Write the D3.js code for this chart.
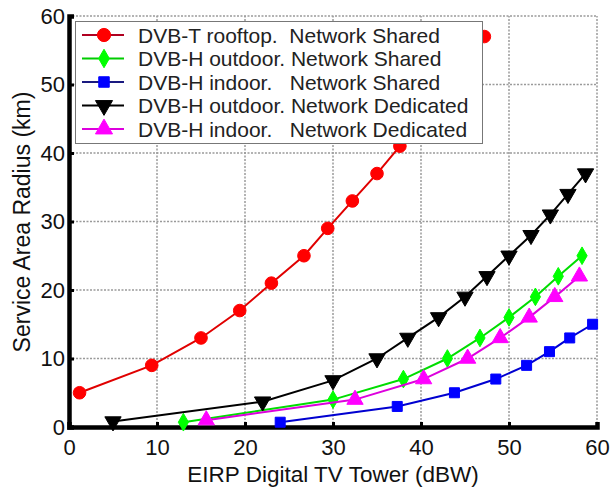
<!DOCTYPE html>
<html><head><meta charset="utf-8">
<script src="https://cdn.jsdelivr.net/npm/d3@7"></script>
<style>body{margin:0;background:#fff}svg{display:block;font-family:"Liberation Sans",Arial,sans-serif}</style>
</head><body><svg id="c" width="614" height="488"></svg>
<script>
const xTicks = [0,10,20,30,40,50,60];
const yTicks = [0,10,20,30,40,50,60];
const seriesNames = ["DVB-T rooftop.  Network Shared","DVB-H outdoor. Network Shared","DVB-H indoor.   Network Shared","DVB-H outdoor. Network Dedicated","DVB-H indoor.   Network Dedicated"];
const dvbtRoof = [[1.2,5],[9.4,9],[15,13],[19.4,17],[23,21],[26.7,25],[29.4,29],[32.2,33],[35,37],[37.6,41],[47.2,57]];
const outShared = [[13,0.7],[30,4],[38,7],[43,10],[46.7,13],[50,16],[53,19],[55.6,22],[58.3,25]];
const inShared = [[24,0.7],[37.3,3],[43.8,5],[48.5,7],[52,9],[54.6,11],[56.9,13],[59.5,15]];
const outDed = [[5,0.8],[22,3.7],[30,6.8],[35,10],[38.5,13],[42,16],[45,19],[47.5,22],[50,25],[52.5,28],[54.7,31],[56.7,34],[58.7,37]];
const inDed = [[15.6,1],[32.5,4],[40.3,7],[45.3,10],[49,13],[52.3,16],[55.2,19],[58,22]];

const series = [
  {name:seriesNames[0], data:dvbtRoof, color:"#ff0000", line:"#e00000", leg:"#b00020", sym:d3.symbolCircle, size:125, rot:0},
  {name:seriesNames[1], data:outShared, color:"#00ff00", line:"#00dd00", leg:"#00cc00", sym:d3.symbolDiamond, size:90, rot:0},
  {name:seriesNames[2], data:inShared, color:"#0000ff", line:"#0000d0", leg:"#1a1a80", sym:d3.symbolSquare, size:100, rot:0},
  {name:seriesNames[3], data:outDed, color:"#000000", line:"#000000", leg:"#000000", sym:d3.symbolTriangle, size:115, rot:180},
  {name:seriesNames[4], data:inDed, color:"#ff00ff", line:"#dd00dd", leg:"#dd00dd", sym:d3.symbolTriangle, size:115, rot:0}
];

const svg = d3.select("#c");
const L=69, R=597, T=16, B=427;
const x = d3.scaleLinear().domain([0,60]).range([L,R]);
const y = d3.scaleLinear().domain([0,60]).range([B,T]);

// grid
const g = svg.append("g");
g.selectAll(".gx").data(xTicks.slice(1)).join("line")
  .attr("x1",d=>x(d)).attr("x2",d=>x(d)).attr("y1",B).attr("y2",T)
  .attr("stroke","#9a9a9a").attr("stroke-width",1.5).attr("stroke-dasharray","2,1.5");
g.selectAll(".gy").data(yTicks.slice(1)).join("line")
  .attr("y1",d=>y(d)).attr("y2",d=>y(d)).attr("x1",L).attr("x2",R)
  .attr("stroke","#9a9a9a").attr("stroke-width",1.5).attr("stroke-dasharray","2,1.5");

// axes
const xa = svg.append("g").attr("transform",`translate(0,${B})`)
  .call(d3.axisBottom(x).tickValues(xTicks).tickSize(-5).tickPadding(12));
const ya = svg.append("g").attr("transform",`translate(${L},0)`)
  .call(d3.axisLeft(y).tickValues(yTicks).tickSize(-5).tickPadding(6));
[xa,ya].forEach(a=>{
  a.select(".domain").attr("stroke","#000").attr("stroke-width",4.5);
  a.selectAll(".tick line").attr("stroke","#000").attr("stroke-width",3);
  a.selectAll("text").attr("font-size",22).attr("fill","#111").attr("font-family","'Liberation Sans',Arial,sans-serif");
});
ya.selectAll("text").attr("dx",2);

// series
const line = d3.line().x(d=>x(d[0])).y(d=>y(d[1]));
series.forEach(s=>{
  svg.append("path").datum(s.data).attr("d",line)
    .attr("fill","none").attr("stroke",s.line).attr("stroke-width",2);
  svg.append("g").selectAll("path").data(s.data).join("path")
    .attr("d",d3.symbol().type(s.sym).size(s.size))
    .attr("transform",d=>`translate(${x(d[0])},${y(d[1])}) rotate(${s.rot})`)
    .attr("fill",s.color).attr("stroke",s.color).attr("stroke-width",1);
});

// legend
const lg = svg.append("g");
lg.append("rect").attr("x",75.5).attr("y",21.5).attr("width",407).attr("height",122)
  .attr("fill","#fff").attr("stroke","#777").attr("stroke-width",1);
series.forEach((s,i)=>{
  const yy = 35 + i*23.5;
  lg.append("line").attr("x1",82).attr("x2",124).attr("y1",yy).attr("y2",yy)
    .attr("stroke",s.leg).attr("stroke-width",2);
  lg.append("path").attr("d",d3.symbol().type(s.sym).size(s.size*1.1))
    .attr("transform",`translate(104,${yy}) rotate(${s.rot})`).attr("fill",s.color).attr("stroke",s.color);
  lg.append("text").attr("x",138).attr("y",yy+7.5).attr("font-size",21).attr("fill","#222")
    .attr("xml:space","preserve").style("white-space","pre").text(s.name);
});

// titles
svg.append("text").attr("x",333).attr("y",482).attr("text-anchor","middle")
  .attr("font-size",22.5).attr("fill","#111").text("EIRP Digital TV Tower (dBW)");
svg.append("text").attr("transform",`translate(30,222) rotate(-90)`).attr("text-anchor","middle")
  .attr("font-size",23).attr("fill","#111").text("Service Area Radius (km)");
</script></body></html>
